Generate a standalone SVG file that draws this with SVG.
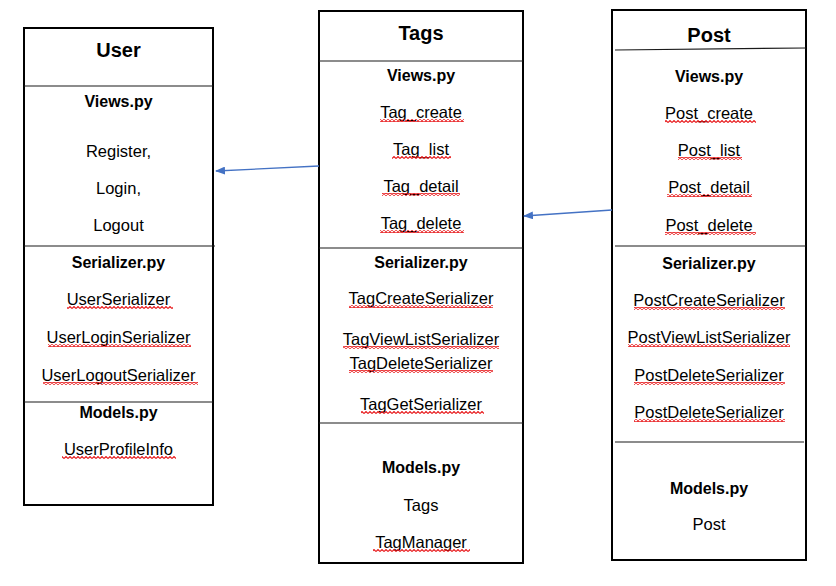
<svg xmlns="http://www.w3.org/2000/svg" width="836" height="586" viewBox="0 0 836 586">
<style>
.box{fill:#fff;stroke:#000;stroke-width:2}
.div{stroke:#1a1a1a;stroke-width:1.2;fill:none}
.t{font-family:"Liberation Sans",Arial,sans-serif;font-size:16.5px;fill:#000;text-anchor:middle}
.h{font-family:"Liberation Sans",Arial,sans-serif;font-size:16px;font-weight:bold;fill:#000;text-anchor:middle}
.ti{font-family:"Liberation Sans",Arial,sans-serif;font-size:20px;font-weight:bold;fill:#000;text-anchor:middle}
.sq{fill:url(#squig)}
.conn{stroke:#4472C4;stroke-width:1.3;fill:none}
</style>
<defs>
<pattern id="squig" patternUnits="userSpaceOnUse" width="4" height="3">
<path d="M0,2.5 L2,0.5 L4,2.5" stroke="#e8191b" stroke-width="1.1" fill="none"/>
</pattern>
<marker id="arr" markerWidth="10" markerHeight="8" refX="9" refY="4" orient="auto" markerUnits="userSpaceOnUse">
<path d="M0,0 L10,4 L0,8 Z" fill="#4472C4"/>
</marker>
</defs>
<rect width="836" height="586" fill="#fff"/>

<g id="user">
<rect class="box" x="24" y="28" width="189" height="477"/>
<line class="div" x1="24" y1="86" x2="213" y2="86"/>
<line class="div" x1="24" y1="246" x2="215" y2="246"/>
<line class="div" x1="24" y1="402" x2="213" y2="402"/>
<text class="ti" x="118.5" y="57">User</text>
<text class="h" x="118.5" y="107">Views.py</text>
<text class="t" x="118.5" y="157">Register,</text>
<text class="t" x="118.5" y="194">Login,</text>
<text class="t" x="118.5" y="231">Logout</text>
<text class="h" x="118.5" y="268">Serializer.py</text>
<text class="t" x="118.5" y="305">UserSerializer</text>
<rect class="sq" x="67" y="306" width="106" height="3"/>
<text class="t" x="118.5" y="343">UserLoginSerializer</text>
<rect class="sq" x="48" y="344" width="143" height="3"/>
<text class="t" x="118.5" y="381">UserLogoutSerializer</text>
<rect class="sq" x="43" y="382" width="155" height="3"/>
<text class="h" x="118.5" y="418">Models.py</text>
<text class="t" x="118.5" y="455">UserProfileInfo</text>
<rect class="sq" x="62" y="456" width="114" height="3"/>
</g>

<g id="tags">
<rect class="box" x="319" y="11" width="204" height="552"/>
<line class="div" x1="319" y1="61" x2="523" y2="61"/>
<line class="div" x1="319" y1="248" x2="523" y2="248"/>
<line class="div" x1="319" y1="423" x2="523" y2="423"/>
<text class="ti" x="421" y="40">Tags</text>
<text class="h" x="421" y="81">Views.py</text>
<text class="t" x="421" y="118">Tag_create</text>
<rect class="sq" x="380" y="119" width="84" height="3"/>
<text class="t" x="421" y="155">Tag_list</text>
<rect class="sq" x="392" y="156" width="59" height="3"/>
<text class="t" x="421" y="192">Tag_detail</text>
<rect class="sq" x="382" y="193" width="78" height="3"/>
<text class="t" x="421" y="229">Tag_delete</text>
<rect class="sq" x="380" y="230" width="84" height="3"/>
<text class="h" x="421" y="268">Serializer.py</text>
<text class="t" x="421" y="304">TagCreateSerializer</text>
<rect class="sq" x="349" y="305" width="144" height="3"/>
<text class="t" x="421" y="345">TagViewListSerializer</text>
<rect class="sq" x="343" y="346" width="156" height="3"/>
<text class="t" x="421" y="369">TagDeleteSerializer</text>
<rect class="sq" x="349" y="370" width="144" height="3"/>
<text class="t" x="421" y="410">TagGetSerializer</text>
<rect class="sq" x="361" y="411" width="123" height="3"/>
<text class="h" x="421" y="473">Models.py</text>
<text class="t" x="421" y="511">Tags</text>
<text class="t" x="421" y="548">TagManager</text>
<rect class="sq" x="373" y="549" width="97" height="3"/>
</g>

<g id="post">
<rect class="box" x="612" y="10" width="194" height="550"/>
<line class="div" x1="615" y1="50" x2="806" y2="48"/>
<line class="div" x1="615" y1="246" x2="806" y2="246"/>
<line class="div" x1="615" y1="442" x2="804" y2="442"/>
<text class="ti" x="709" y="42">Post</text>
<text class="h" x="709" y="82">Views.py</text>
<text class="t" x="709" y="119">Post_create</text>
<rect class="sq" x="665" y="120" width="91" height="3"/>
<text class="t" x="709" y="156">Post_list</text>
<rect class="sq" x="678" y="157" width="64" height="3"/>
<text class="t" x="709" y="193">Post_detail</text>
<rect class="sq" x="667" y="194" width="85" height="3"/>
<text class="t" x="709" y="231">Post_delete</text>
<rect class="sq" x="665" y="232" width="91" height="3"/>
<text class="h" x="709" y="269">Serializer.py</text>
<text class="t" x="709" y="306">PostCreateSerializer</text>
<rect class="sq" x="634" y="307" width="151" height="3"/>
<text class="t" x="709" y="343">PostViewListSerializer</text>
<rect class="sq" x="628" y="344" width="162" height="3"/>
<text class="t" x="709" y="381">PostDeleteSerializer</text>
<rect class="sq" x="634" y="382" width="151" height="3"/>
<text class="t" x="709" y="418">PostDeleteSerializer</text>
<rect class="sq" x="634" y="419" width="151" height="3"/>
<text class="h" x="709" y="494">Models.py</text>
<text class="t" x="709" y="530">Post</text>
</g>

<g id="connectors">
<line class="conn" x1="319" y1="166" x2="216" y2="171" marker-end="url(#arr)"/>
<line class="conn" x1="612" y1="210" x2="524" y2="216" marker-end="url(#arr)"/>
</g>
</svg>
